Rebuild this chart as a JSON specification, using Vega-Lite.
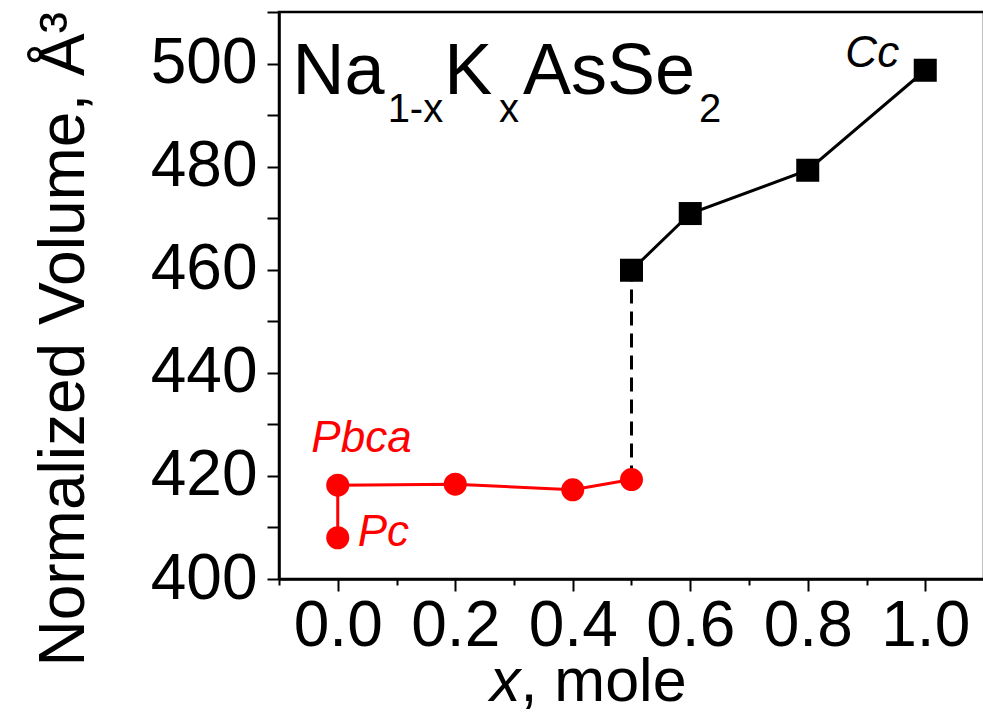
{
  "$schema": "https://vega.github.io/schema/vega-lite/v6.json",
  "width": 705,
  "height": 567,
  "autosize": {"type": "none"},
  "padding": {"left": 279, "top": 12, "right": 0, "bottom": 139},
  "background": "white",
  "config": {
    "view": {"stroke": "black", "strokeWidth": 2.5},
    "font": "Liberation Sans"
  },
  "datasets": {
    "orthorhombic": [
      {"x": 0.0, "v": 408.0, "seq": 1},
      {"x": 0.0, "v": 418.2, "seq": 2},
      {"x": 0.2, "v": 418.4, "seq": 3},
      {"x": 0.4, "v": 417.3, "seq": 4},
      {"x": 0.5, "v": 419.3, "seq": 5}
    ],
    "monoclinic": [
      {"x": 0.5, "v": 459.9},
      {"x": 0.6, "v": 470.9},
      {"x": 0.8, "v": 479.3},
      {"x": 1.0, "v": 498.7}
    ],
    "transition": [
      {"x": 0.5, "v": 419.3},
      {"x": 0.5, "v": 459.9}
    ]
  },
  "layer": [
    {
      "data": {"name": "transition"},
      "mark": {"type": "line", "color": "black", "strokeWidth": 3, "strokeDash": [14, 8]},
      "encoding": {
        "x": {
          "field": "x",
          "type": "quantitative",
          "scale": {"domain": [-0.1, 1.1], "nice": false, "zero": false},
          "axis": {
            "values": [-0.1, 0, 0.1, 0.2, 0.3, 0.4, 0.5, 0.6, 0.7, 0.8, 0.9, 1.0],
            "labelExpr": "abs(round(datum.value * 10)) % 2 == 0 ? format(datum.value, '.1f') : ''",
            "title": null,
            "grid": false,
            "domainColor": "black",
            "domainWidth": 2.5,
            "tickColor": "black",
            "tickWidth": 2,
            "tickSize": {"condition": {"test": "abs(round(datum.value * 10)) % 2 == 0", "value": 12}, "value": 6},
            "labelFont": "Liberation Sans",
            "labelFontSize": 64,
            "labelColor": "black",
            "labelPadding": 3,
            "labelFlush": false,
            "labelOverlap": false
          }
        },
        "y": {
          "field": "v",
          "type": "quantitative",
          "scale": {"domain": [400, 510], "nice": false, "zero": false},
          "axis": {
            "values": [400, 410, 420, 430, 440, 450, 460, 470, 480, 490, 500, 510],
            "labelExpr": "datum.value % 20 == 0 && datum.value <= 500 ? datum.label : ''",
            "grid": false,
            "domainColor": "black",
            "domainWidth": 2.5,
            "tickColor": "black",
            "tickWidth": 2,
            "tickSize": 12,
            "labelFont": "Liberation Sans",
            "labelFontSize": 64,
            "labelColor": "black",
            "labelPadding": 10,
            "labelFlush": false,
            "labelOverlap": false,
            "title": "Normalized Volume, Å³",
            "titleFont": "Liberation Sans",
            "titleFontSize": 64,
            "titleFontWeight": "normal",
            "titleColor": "black",
            "titleAngle": 270,
            "titleAlign": "left",
            "titleBaseline": "alphabetic",
            "titleX": -196,
            "titleY": 654
          }
        }
      }
    },
    {
      "data": {"name": "orthorhombic"},
      "mark": {"type": "line", "color": "#ff0000", "strokeWidth": 3},
      "encoding": {
        "x": {"field": "x", "type": "quantitative"},
        "y": {"field": "v", "type": "quantitative"},
        "order": {"field": "seq", "type": "quantitative"}
      }
    },
    {
      "data": {"name": "orthorhombic"},
      "mark": {"type": "point", "shape": "circle", "filled": true, "color": "#ff0000", "opacity": 1, "size": 530},
      "encoding": {
        "x": {"field": "x", "type": "quantitative"},
        "y": {"field": "v", "type": "quantitative"}
      }
    },
    {
      "data": {"name": "monoclinic"},
      "mark": {"type": "line", "color": "black", "strokeWidth": 3},
      "encoding": {
        "x": {"field": "x", "type": "quantitative"},
        "y": {"field": "v", "type": "quantitative"}
      }
    },
    {
      "data": {"name": "monoclinic"},
      "mark": {"type": "point", "shape": "square", "filled": true, "color": "black", "opacity": 1, "size": 530},
      "encoding": {
        "x": {"field": "x", "type": "quantitative"},
        "y": {"field": "v", "type": "quantitative"}
      }
    },
    {
      "data": {"values": [{"label": "Pbca"}]},
      "mark": {"type": "text", "fontStyle": "italic", "fontSize": 44, "color": "#ff0000", "align": "left", "baseline": "alphabetic"},
      "encoding": {"x": {"datum": -0.045}, "y": {"datum": 424.6}, "text": {"field": "label"}}
    },
    {
      "data": {"values": [{"label": "Pc"}]},
      "mark": {"type": "text", "fontStyle": "italic", "fontSize": 44, "color": "#ff0000", "align": "left", "baseline": "alphabetic"},
      "encoding": {"x": {"datum": 0.034}, "y": {"datum": 406.4}, "text": {"field": "label"}}
    },
    {
      "data": {"values": [{"label": "Cc"}]},
      "mark": {"type": "text", "fontStyle": "italic", "fontSize": 44, "color": "black", "align": "left", "baseline": "alphabetic"},
      "encoding": {"x": {"datum": 0.864}, "y": {"datum": 499.3}, "text": {"field": "label"}}
    },
    {
      "data": {"values": [{"label": "Na"}]},
      "mark": {"type": "text", "fontSize": 72, "color": "black", "align": "left", "baseline": "alphabetic"},
      "encoding": {"x": {"datum": -0.077}, "y": {"datum": 494.1}, "text": {"field": "label"}}
    },
    {
      "data": {"values": [{"label": "1-x"}]},
      "mark": {"type": "text", "fontSize": 40, "color": "black", "align": "left", "baseline": "alphabetic"},
      "encoding": {"x": {"datum": 0.0849}, "y": {"datum": 488.6}, "text": {"field": "label"}}
    },
    {
      "data": {"values": [{"label": "K"}]},
      "mark": {"type": "text", "fontSize": 72, "color": "black", "align": "left", "baseline": "alphabetic"},
      "encoding": {"x": {"datum": 0.1814}, "y": {"datum": 494.1}, "text": {"field": "label"}}
    },
    {
      "data": {"values": [{"label": "x"}]},
      "mark": {"type": "text", "fontSize": 40, "color": "black", "align": "left", "baseline": "alphabetic"},
      "encoding": {"x": {"datum": 0.2745}, "y": {"datum": 488.6}, "text": {"field": "label"}}
    },
    {
      "data": {"values": [{"label": "AsSe"}]},
      "mark": {"type": "text", "fontSize": 72, "color": "black", "align": "left", "baseline": "alphabetic"},
      "encoding": {"x": {"datum": 0.3153}, "y": {"datum": 494.1}, "text": {"field": "label"}}
    },
    {
      "data": {"values": [{"label": "2"}]},
      "mark": {"type": "text", "fontSize": 40, "color": "black", "align": "left", "baseline": "alphabetic"},
      "encoding": {"x": {"datum": 0.6149}, "y": {"datum": 488.6}, "text": {"field": "label"}}
    },
    {
      "data": {"values": [{"label": "x"}]},
      "mark": {"type": "text", "fontStyle": "italic", "fontSize": 61, "color": "black", "align": "right", "baseline": "alphabetic", "dy": 122},
      "encoding": {"x": {"datum": 0.311}, "y": {"datum": 400}, "text": {"field": "label"}}
    },
    {
      "data": {"values": [{"label": ", mole"}]},
      "mark": {"type": "text", "fontSize": 61, "color": "black", "align": "left", "baseline": "alphabetic", "dy": 122},
      "encoding": {"x": {"datum": 0.311}, "y": {"datum": 400}, "text": {"field": "label"}}
    }
  ]
}
